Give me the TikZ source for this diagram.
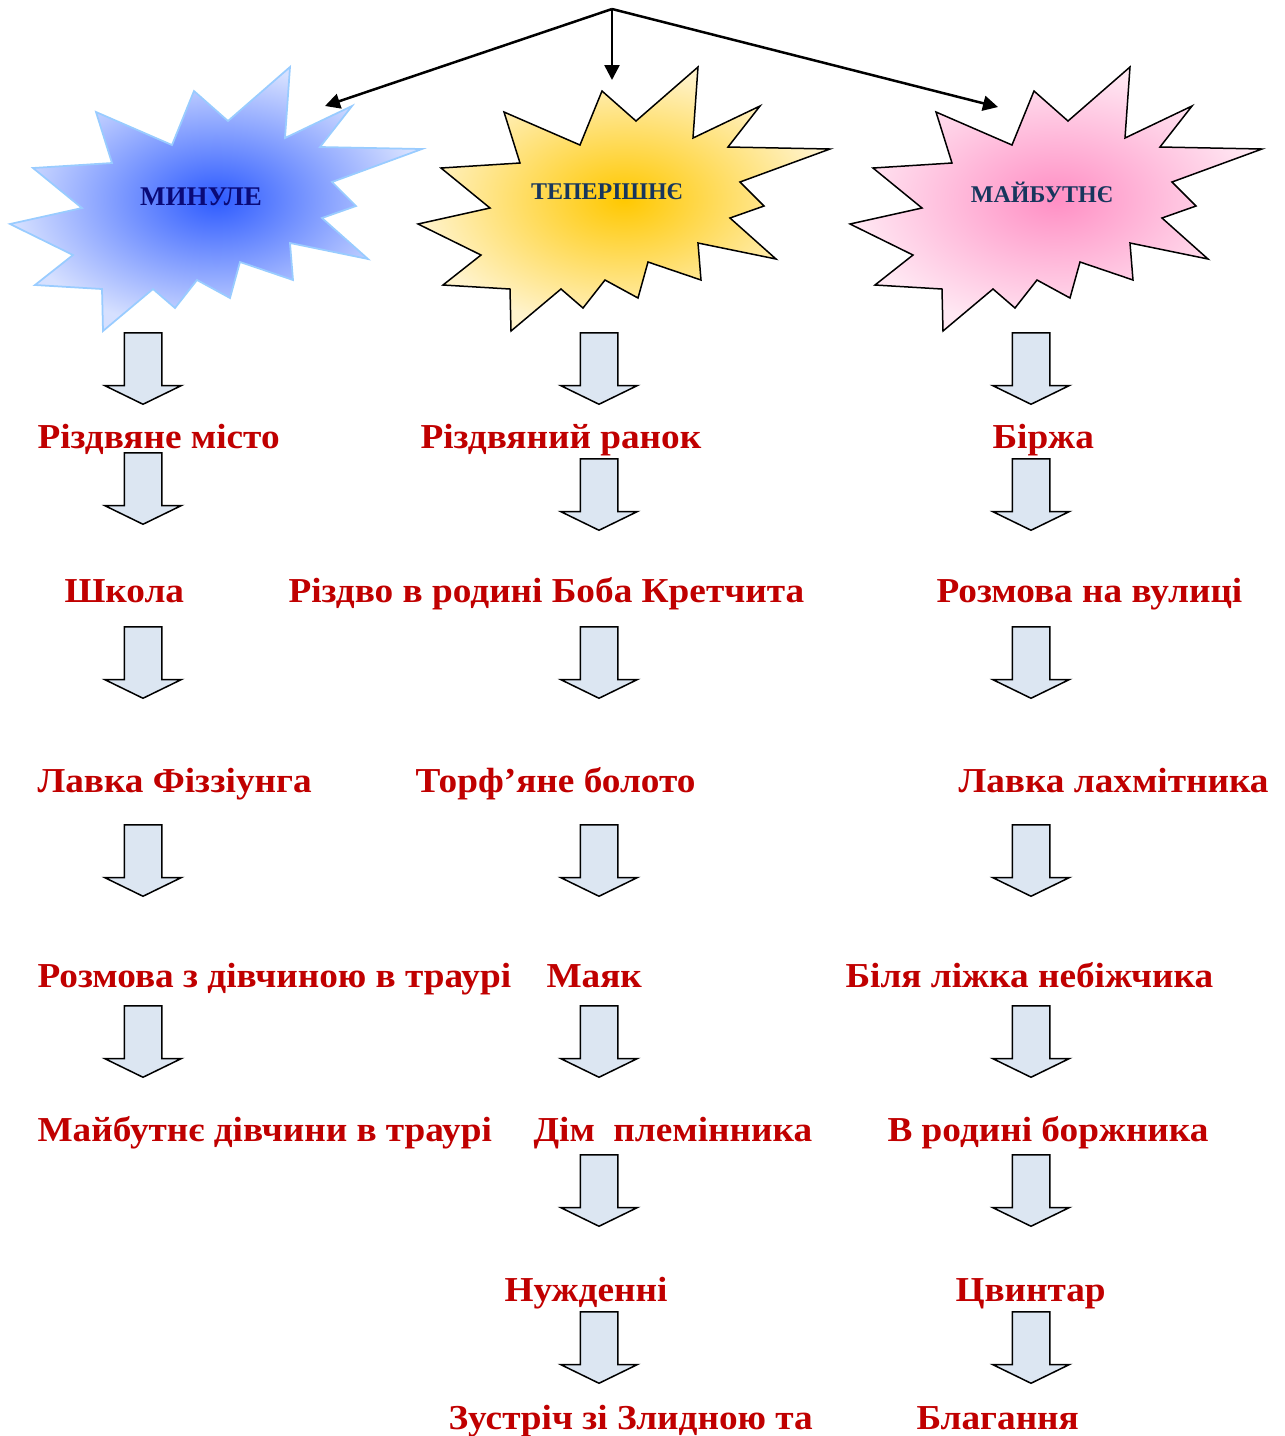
\documentclass[tikz,border=0pt]{standalone}
\usepackage{fontspec}
\setmainfont{Liberation Serif}
\newfontfamily\scenefont[FakeStretch=1.065]{Liberation Serif}
\usetikzlibrary{shapes.arrows}
\usetikzlibrary{arrows.meta}

\definecolor{scenered}{HTML}{C00000}
\definecolor{pastnavy}{HTML}{0A0A78}
\definecolor{timenavy}{HTML}{17365D}
\definecolor{blockfill}{HTML}{DCE6F2}
\definecolor{pastedge}{HTML}{99CCFF}
\definecolor{pastin}{HTML}{2E5BFF}
\definecolor{pastout}{HTML}{D6E0FF}
\definecolor{presentin}{HTML}{FFC800}
\definecolor{presentout}{HTML}{FFF3CC}
\definecolor{futurein}{HTML}{FF8FC4}
\definecolor{futureout}{HTML}{FFE8F3}

\newcommand{\burstpath}{(290,67) -- (285,138) -- (352,106) -- (320,147) -- (422,149) -- (332,182) -- (356,206) -- (322,218) -- (368,259) -- (290,243) -- (293,280) -- (240,262) -- (230,298) -- (197,280) -- (175,308) -- (153,289) -- (103,331) -- (102,289) -- (35,285) -- (73,255) -- (10,224) -- (82,208) -- (33,168) -- (112,163) -- (96,112) -- (172,145) -- (194,91) -- (228,121) -- cycle}

\begin{document}
\begin{tikzpicture}[x=0.4pt, y=-0.4pt,
	scene/.style={font=\scenefont\fontsize{14}{16}\selectfont\bfseries, text=scenered, anchor=base west, inner sep=0pt},
	timelabel/.style={font=\fontsize{9.6}{12}\selectfont\bfseries, text=timenavy, inner sep=0pt},
	blockdown/.style={single arrow, draw, fill=blockfill, line width=0.6pt, rotate=-90, anchor=tail,
		minimum height=28.6pt, minimum width=30pt, inner xsep=0pt, inner ysep=7.2pt,
		single arrow head extend=7.8pt, single arrow tip angle=128},
	pointer/.style={line width=1pt, -{Triangle[length=6pt, width=6pt]}}]
		
		\useasboundingbox (0,0) rectangle (1285,1436);
		
		\shade[inner color=pastin, outer color=pastout, draw=pastedge, line width=0.7pt] \burstpath;
		\shade[shift={(408,0)}, inner color=presentin, outer color=presentout, draw=black, line width=0.6pt] \burstpath;
		\shade[shift={(840,0)}, inner color=futurein, outer color=futureout, draw=black, line width=0.6pt] \burstpath;
		
		\node[timelabel, text=pastnavy, font=\fontsize{10.8}{12}\selectfont\bfseries] at (201,197) (past) {МИНУЛЕ};
		\node[timelabel] at (607,192) (present) {ТЕПЕРІШНЄ};
		\node[timelabel] at (1042,192) (future) {МАЙБУТНЄ};
		
		\coordinate (top) at (612,9);
		\coordinate (tpast) at (325,106);
		\coordinate (tpresent) at (612,80);
		\coordinate (tfuture) at (998,107);
		
		\path[pointer]
		(top) edge (tpast)
		(top) edge (tpresent)
		(top) edge (tfuture)
		;
		
		\node[scene] at (37,448) (p1) {Різдвяне місто};
		\node[scene] at (64,602) (p2) {Школа};
		\node[scene] at (37,792) (p3) {Лавка Фіззіунга};
		\node[scene] at (37,987) (p4) {Розмова з дівчиною в траурі};
		\node[scene] at (37,1141) (p5) {Майбутнє дівчини в траурі};
		
		\node[scene] at (420,448) (c1) {Різдвяний ранок};
		\node[scene] at (288,602) (c2) {Різдво в родині Боба Кретчита};
		\node[scene] at (415,792) (c3) {Торф’яне болото};
		\node[scene] at (546,987) (c4) {Маяк};
		\node[scene] at (533,1141) (c5) {Дім\ \ племінника};
		\node[scene] at (504,1301) (c6) {Нужденні};
		\node[scene] at (448,1429) (c7) {Зустріч зі Злидною та};
		
		\node[scene] at (992,448) (f1) {Біржа};
		\node[scene] at (936,602) (f2) {Розмова на вулиці};
		\node[scene] at (958,792) (f3) {Лавка лахмітника};
		\node[scene] at (845,987) (f4) {Біля ліжка небіжчика};
		\node[scene] at (887,1141) (f5) {В родині боржника};
		\node[scene] at (955,1301) (f6) {Цвинтар};
		\node[scene] at (916,1429) (f7) {Благання};
		
		\node[blockdown] at (143,332) (pa1) {};
		\node[blockdown] at (143,452) (pa2) {};
		\node[blockdown] at (143,626) (pa3) {};
		\node[blockdown] at (143,824) (pa4) {};
		\node[blockdown] at (143,1005) (pa5) {};
		
		\node[blockdown] at (599,332) (ca1) {};
		\node[blockdown] at (599,458) (ca2) {};
		\node[blockdown] at (599,626) (ca3) {};
		\node[blockdown] at (599,824) (ca4) {};
		\node[blockdown] at (599,1005) (ca5) {};
		\node[blockdown] at (599,1154) (ca6) {};
		\node[blockdown] at (599,1311) (ca7) {};
		
		\node[blockdown] at (1031,332) (fa1) {};
		\node[blockdown] at (1031,458) (fa2) {};
		\node[blockdown] at (1031,626) (fa3) {};
		\node[blockdown] at (1031,824) (fa4) {};
		\node[blockdown] at (1031,1005) (fa5) {};
		\node[blockdown] at (1031,1154) (fa6) {};
		\node[blockdown] at (1031,1311) (fa7) {};
		
\end{tikzpicture}
\end{document}
